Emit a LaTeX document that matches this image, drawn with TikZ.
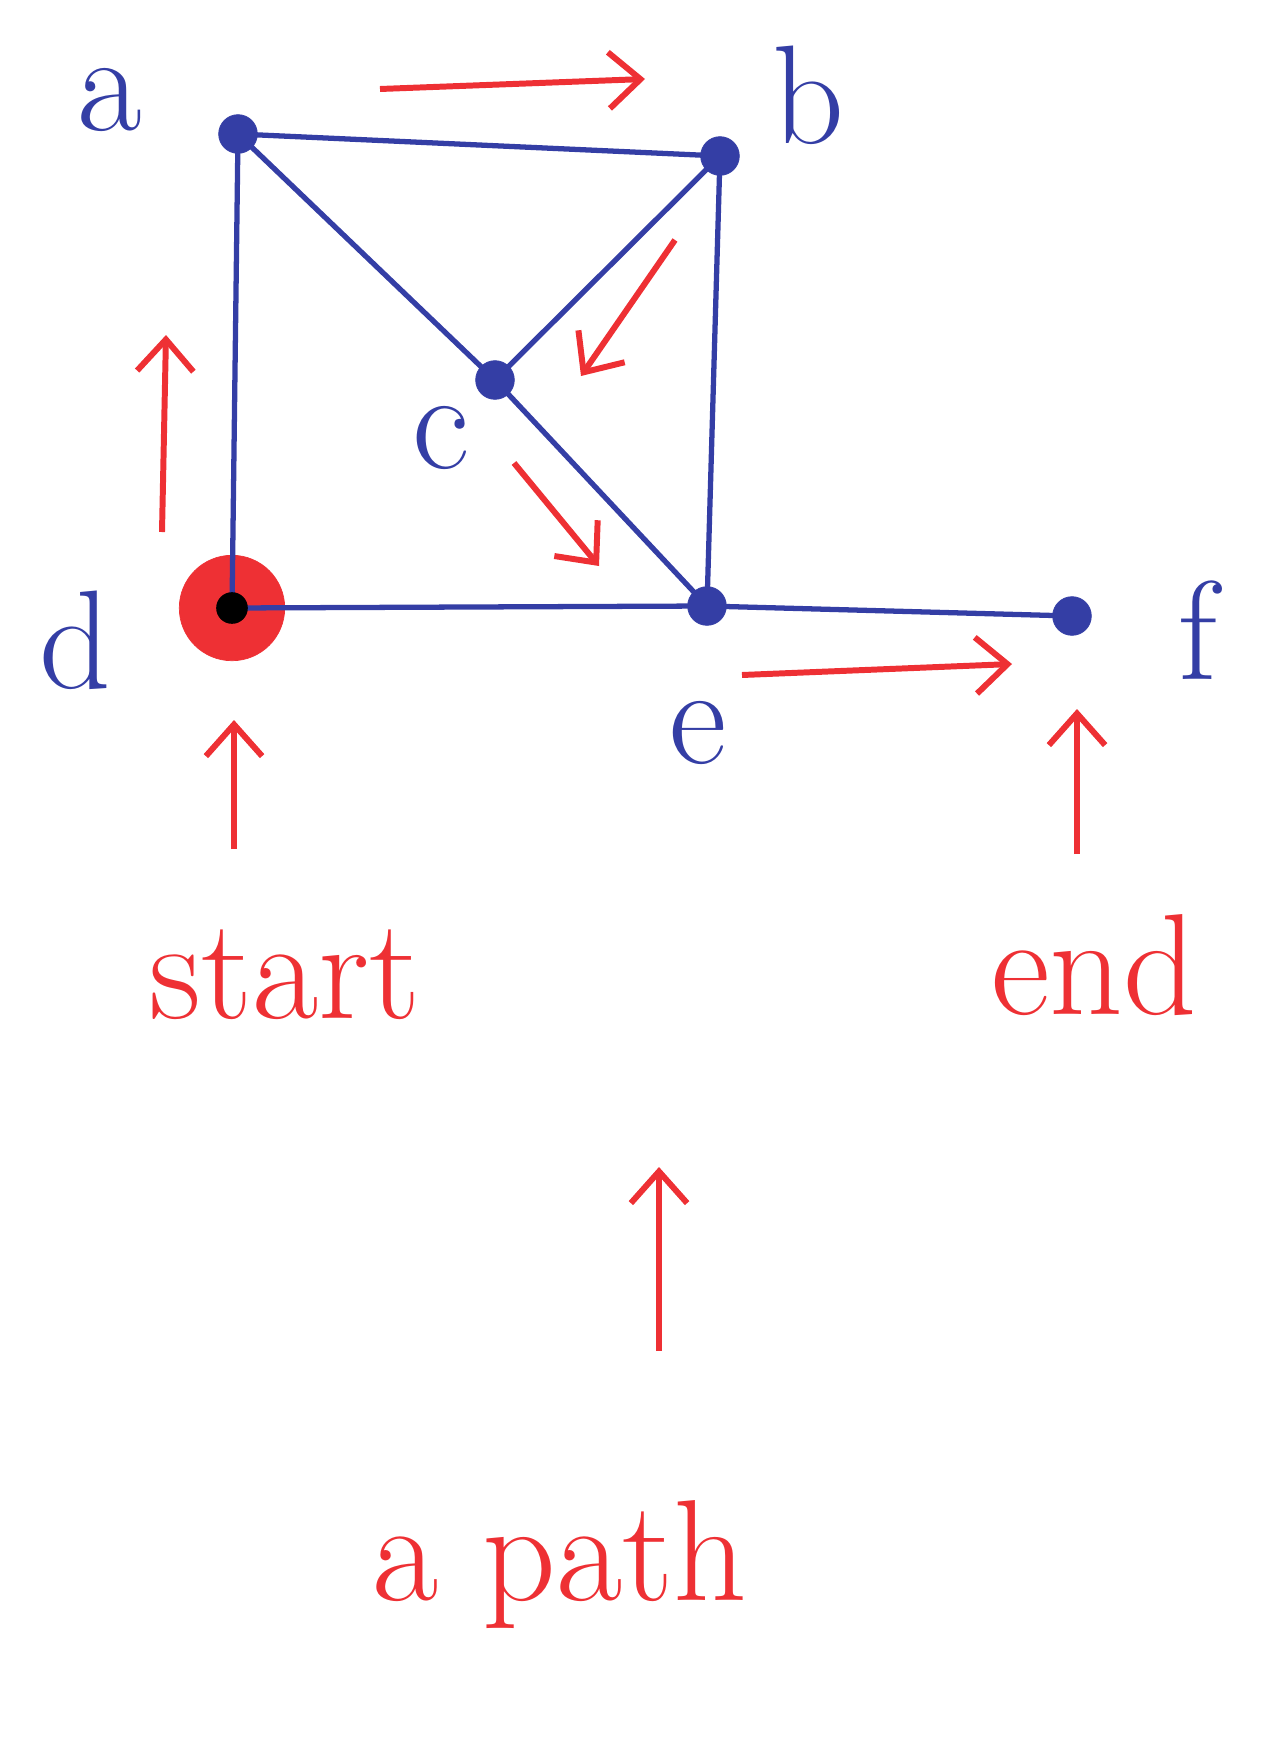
\documentclass[tikz,border=0pt]{standalone}
\usepackage{tikz}
\usetikzlibrary{arrows.meta}

\definecolor{inkblue}{RGB}{52,62,165}
\definecolor{inkred}{RGB}{238,48,52}

\tikzset{
  vertex/.style={circle, fill=inkblue, draw=inkblue, inner sep=0pt, minimum size=22pt},
  startvertex/.style={circle, fill=inkred, draw=inkred, inner sep=0pt, minimum size=60pt},
  edge/.style={draw=inkblue, line width=3pt},
  lbl/.style={text=inkblue, font=\fontsize{80}{90}\selectfont},
  redarrow/.style={draw=inkred, line width=3.4pt, -{Straight Barb[length=18pt, width=32pt]}},
  redtext/.style={text=inkred, font=\fontsize{82}{90}\selectfont}
}

\begin{document}
\begin{tikzpicture}[x=0.2mm, y=-0.2mm]

% cadre de l'image
\useasboundingbox (0,0) rectangle (1265,1750);

% sommets
\node[startvertex] (d) at (232,608) {};
\node[vertex] (a) at (238,134) {};
\node[vertex] (b) at (720,156) {};
\node[vertex] (c) at (495,380) {};
\node[vertex] (e) at (707,606) {};
\node[vertex] (f) at (1072,616) {};

% aretes
\draw[edge] (a.center) -- (b.center);
\draw[edge] (a.center) -- (d.center);
\draw[edge] (a.center) -- (c.center);
\draw[edge] (b.center) -- (c.center);
\draw[edge] (b.center) -- (e.center);
\draw[edge] (c.center) -- (e.center);
\draw[edge] (d.center) -- (e.center);
\draw[edge] (e.center) -- (f.center);

% point noir au depart
\fill[black] (d.center) circle (9pt);

% noms des sommets
\node[lbl] (la) at (110,100) {a};
\node[lbl] (lb) at (808,95) {b};
\node[lbl] (lc) at (441,438) {c};
\node[lbl] (ld) at (75,640) {d};
\node[lbl] (le) at (698,733) {e};
\node[lbl] (lf) at (1198,630) {f};

% fleches du chemin
\coordinate (p1) at (380,89);   \coordinate (p2) at (645,79);
\coordinate (p3) at (675,240);  \coordinate (p4) at (581,376);
\coordinate (p5) at (514,463);  \coordinate (p6) at (599,566);
\coordinate (p7) at (162,532);  \coordinate (p8) at (166,335);
\coordinate (p9) at (742,675);  \coordinate (p10) at (1012,664);
\draw[redarrow] (p7) -- (p8);
\draw[redarrow] (p1) -- (p2);
\draw[redarrow] (p3) -- (p4);
\draw[redarrow] (p5) -- (p6);
\draw[redarrow] (p9) -- (p10);

% textes
\node[redtext] (start) at (285,975) {start};
\node[redtext] (end) at (1094,965) {end};
\node[redtext] (apath) at (560,1565) {a path};

\coordinate (s0) at (234,849);  \coordinate (s1) at (234,720);
\coordinate (e0) at (1077,854); \coordinate (e1) at (1077,709);
\coordinate (q0) at (659,1351); \coordinate (q1) at (659,1167);
\draw[redarrow] (s0) -- (s1);
\draw[redarrow] (e0) -- (e1);
\draw[redarrow] (q0) -- (q1);

\end{tikzpicture}
\end{document}
